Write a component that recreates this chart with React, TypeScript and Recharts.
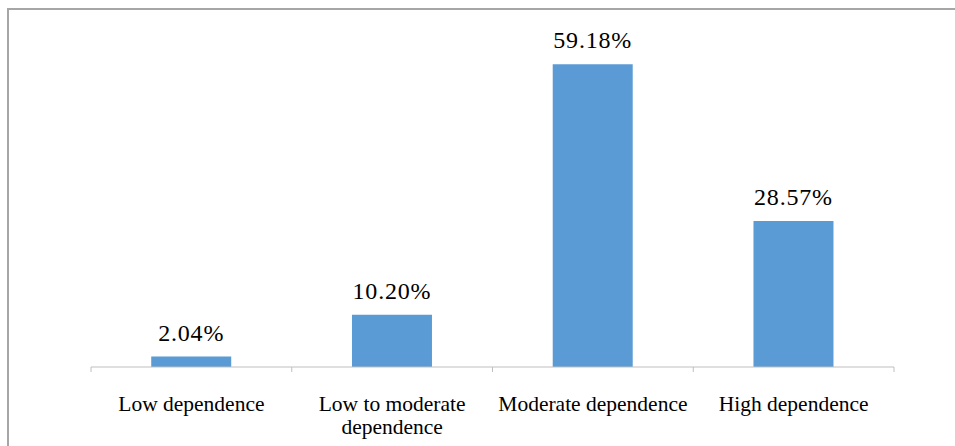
import React from 'react';
import { BarChart, Bar, XAxis, YAxis, LabelList } from 'recharts';

const categories = ['Low dependence', 'Low to moderate\ndependence', 'Moderate dependence', 'High dependence'];
const shares = [2.04, 10.2, 59.18, 28.57];

const data = categories.map((name, i) => ({ name, value: shares[i] }));

const W = 955;
const H = 446;
const margin = { top: 9, right: 61, bottom: 0, left: 91 };
const band = (W - margin.left - margin.right) / categories.length;
const serif = 'Liberation Serif, Times New Roman, serif';

function CategoryTick(props: any) {
  const { x, y, payload, index, visibleTicksCount } = props;
  const left = x - band / 2;
  const right = x + band / 2;
  const lines = String(payload.value).split('\n');
  return (
    <g>
      <line x1={left} x2={left} y1={y - 5} y2={y} stroke="#bfbfbf" strokeWidth={1} />
      {index === visibleTicksCount - 1 && (
        <line x1={right} x2={right} y1={y - 5} y2={y} stroke="#bfbfbf" strokeWidth={1} />
      )}
      <text x={x} y={y + 39} textAnchor="middle" fill="#000" fontFamily={serif} fontSize={21.5}>
        {lines.map((line, i) => (
          <tspan key={i} x={x} dy={i === 0 ? 0 : 23}>
            {line}
          </tspan>
        ))}
      </text>
    </g>
  );
}

export default function App() {
  return (
    <div style={{ position: 'absolute', left: 0, top: 0, width: W, height: H, background: '#fff', overflow: 'hidden' }}>
      <div
        style={{
          position: 'absolute',
          left: 7,
          top: 8,
          width: W,
          height: H,
          borderTop: '2px solid #a6a6a6',
          borderLeft: '2px solid #a6a6a6',
        }}
      />
      <div style={{ position: 'absolute', left: 0, top: 0 }}>
        <BarChart width={W} height={H} data={data} margin={margin} barCategoryGap="30%">
          <XAxis
            dataKey="name"
            height={79}
            interval={0}
            axisLine={{ stroke: '#bfbfbf', strokeWidth: 1 }}
            tickLine={false}
            tickSize={5}
            tickMargin={0}
            tick={<CategoryTick />}
          />
          <YAxis hide domain={[0, 70]} />
          <Bar dataKey="value" fill="#5b9bd5" isAnimationActive={false}>
            <LabelList
              dataKey="value"
              position="top"
              offset={16}
              formatter={(v: any) => `${Number(v).toFixed(2)}%`}
              fill="#000"
              fontFamily={serif}
              fontSize={24}
              letterSpacing={0.8}
            />
          </Bar>
        </BarChart>
      </div>
    </div>
  );
}
